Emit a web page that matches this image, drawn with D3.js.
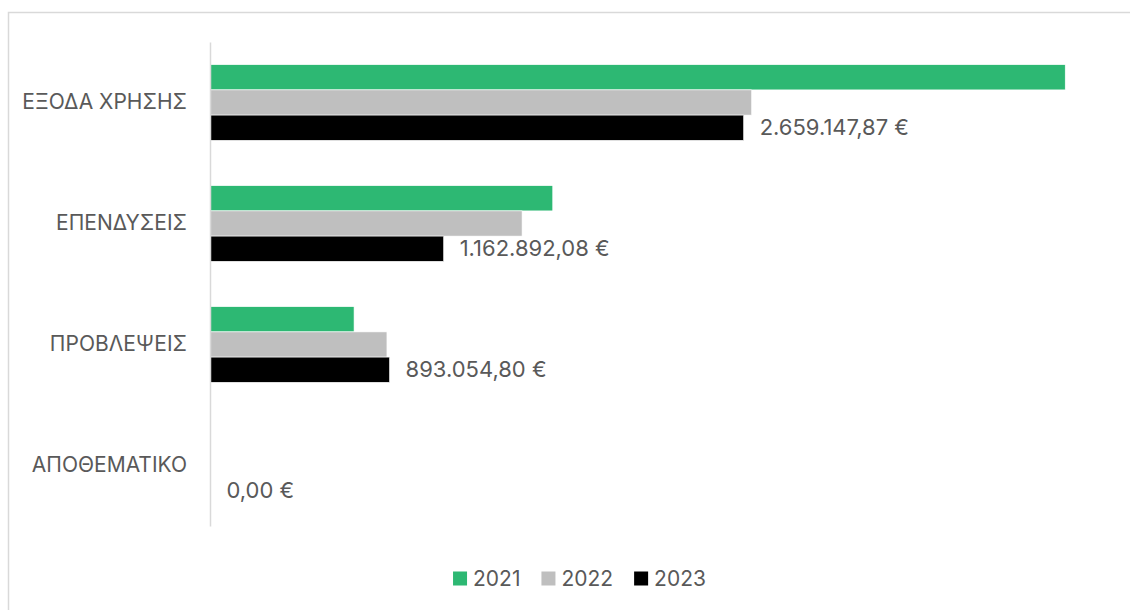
<!DOCTYPE html>
<html>
<head>
<meta charset="utf-8">
<script src="https://cdn.jsdelivr.net/npm/d3@7"></script>
<style>
  body { margin: 0; background: #fff; }
  text { font-family: Inter, "Noto Sans", sans-serif; fill: #595959; }
</style>
</head>
<body>
<div id="chart-area"></div>
<script>
const categories = ['ΕΞΟΔΑ ΧΡΗΣΗΣ', 'ΕΠΕΝΔΥΣΕΙΣ', 'ΠΡΟΒΛΕΨΕΙΣ', 'ΑΠΟΘΕΜΑΤΙΚΟ'];
const years = ['2021', '2022', '2023'];
const values2021 = [4263000, 1707000, 716000, 0];
const values2022 = [2699000, 1554000, 880000, 0];
const values2023 = [2659147.87, 1162892.08, 893054.80, 0];
const colors = ['#2DB873', '#BFBFBF', '#000000'];

const series = [values2021, values2022, values2023];

const W = 1130, H = 610;

const svg = d3.select('#chart-area').append('svg')
  .attr('width', W)
  .attr('height', H);

// outer chart border (only top and left show in frame)
svg.append('rect')
  .attr('x', 8.5).attr('y', 12.5)
  .attr('width', 1200).attr('height', 700)
  .attr('fill', 'none')
  .attr('stroke', '#D9D9D9')
  .attr('stroke-width', 1.5);

const x = d3.scaleLinear()
  .domain([0, 4500000])
  .range([210.5, 210.5 + 4.5 * 200.5]);

const y0 = d3.scaleBand()
  .domain(categories)
  .range([42, 526]);

const y1 = d3.scaleBand()
  .domain(years)
  .range([0, y0.bandwidth()])
  .paddingOuter(0.9);

const locale = d3.formatLocale({
  decimal: ',', thousands: '.', grouping: [3], currency: ['', ' €']
});
const fmt = locale.format('$,.2f');

// bars
const groups = svg.selectAll('.cat')
  .data(categories)
  .enter().append('g')
  .attr('class', 'cat')
  .attr('transform', d => `translate(0,${y0(d)})`);

groups.selectAll('rect')
  .data((d, i) => years.map((yr, j) => ({ yr, j, v: series[j][i] })))
  .enter().append('rect')
  .attr('x', x(0))
  .attr('y', d => y1(d.yr))
  .attr('height', y1.bandwidth())
  .attr('width', d => x(d.v) - x(0))
  .attr('fill', d => colors[d.j])
  .attr('stroke', d => d.v > 0 ? '#fff' : 'none')
  .attr('stroke-width', 0.6);

// 2023 value labels
groups.append('text')
  .attr('x', (d, i) => x(values2023[i]) + 16)
  .attr('y', y1('2023') + y1.bandwidth() / 2)
  .attr('dy', '0.35em')
  .attr('font-size', '22px')
  .text((d, i) => fmt(values2023[i]));

// category axis
const yAxis = svg.append('g')
  .attr('transform', 'translate(210,0)')
  .call(d3.axisLeft(y0).tickSize(0).tickPadding(23));

yAxis.select('.domain')
  .attr('stroke', '#D9D9D9')
  .attr('stroke-width', 1.5);

yAxis.selectAll('text')
  .attr('font-size', '21px')
  .attr('font-family', 'Inter, "Noto Sans", sans-serif')
  .attr('fill', '#595959');

// legend
const legend = svg.append('g');
let lx = 0;
years.forEach((yr, j) => {
  const item = legend.append('g').attr('transform', `translate(${lx},0)`);
  item.append('rect')
    .attr('x', 0).attr('y', -7)
    .attr('width', 14).attr('height', 14)
    .attr('fill', colors[j]);
  const t = item.append('text')
    .attr('x', 20)
    .attr('dy', '0.35em')
    .attr('font-size', '21px')
    .text(yr);
  lx += 20 + t.node().getComputedTextLength() + 21;
});
const legendWidth = lx - 21;
legend.attr('transform', `translate(${579.5 - legendWidth / 2},578.5)`);
</script>
</body>
</html>
